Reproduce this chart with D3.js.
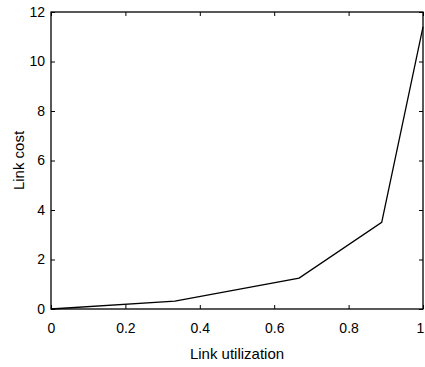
<!DOCTYPE html>
<html>
<head>
<meta charset="utf-8">
<script src="https://cdn.jsdelivr.net/npm/d3@7"></script>
<style>
  body { margin: 0; background: #fff; }
  text { font-family: "Liberation Sans", Arial, sans-serif; fill: #000; }
</style>
</head>
<body>
<script>
// link cost curve
var utilization = [0, 0.333, 0.667, 0.889, 1.0];
var linkCost = [0, 0.32, 1.25, 3.5, 11.4];
var xTicks = [0, 0.2, 0.4, 0.6, 0.8, 1];
var yTicks = [0, 2, 4, 6, 8, 10, 12];

var box = { width: 425, height: 367 };
var plot = { left: 51, right: 423, top: 12, bottom: 309 };

var svg = d3.select("body").append("svg")
    .attr("width", box.width)
    .attr("height", box.height);

var x = d3.scaleLinear().domain([0, 1]).range([plot.left, plot.right]);
var y = d3.scaleLinear().domain([0, 12]).range([plot.bottom, plot.top]);

// frame
svg.append("rect")
    .attr("x", plot.left)
    .attr("y", plot.top)
    .attr("width", plot.right - plot.left)
    .attr("height", plot.bottom - plot.top)
    .attr("fill", "none")
    .attr("stroke", "#000")
    .attr("stroke-width", 1.3);

// axes with inward ticks
var xAxis = d3.axisBottom(x).tickValues(xTicks).tickSize(-4).tickPadding(14)
    .tickFormat(d => d3.format("")(d));
var yAxis = d3.axisLeft(y).tickValues(yTicks).tickSize(-4).tickPadding(6);

var gx = svg.append("g").attr("transform", "translate(0," + plot.bottom + ")").call(xAxis);
var gy = svg.append("g").attr("transform", "translate(" + plot.left + ",0)").call(yAxis);
[gx, gy].forEach(g => {
    g.select(".domain").remove();
    g.selectAll("line").attr("stroke", "#000");
    g.selectAll("text").style("font-size", "14px");
});
// keep the last label inside the window
gx.selectAll(".tick text").filter(d => d === 1).attr("dx", -3);

// top and right ticks
svg.append("g").attr("transform", "translate(0," + plot.top + ")")
    .call(d3.axisTop(x).tickValues(xTicks).tickSize(-4).tickFormat(""))
    .call(g => g.select(".domain").remove());
svg.append("g").attr("transform", "translate(" + plot.right + ",0)")
    .call(d3.axisRight(y).tickValues(yTicks).tickSize(-4).tickFormat(""))
    .call(g => g.select(".domain").remove());

// curve
var line = d3.line()
    .x((d, i) => x(utilization[i]))
    .y(d => y(d));

svg.append("path")
    .datum(linkCost)
    .attr("d", line)
    .attr("fill", "none")
    .attr("stroke", "#000")
    .attr("stroke-width", 1.3);

// labels
svg.append("text")
    .attr("x", (plot.left + plot.right) / 2)
    .attr("y", 359)
    .attr("text-anchor", "middle")
    .style("font-size", "15px")
    .text("Link utilization");

svg.append("text")
    .attr("transform", "translate(24," + (plot.top + plot.bottom) / 2 + ") rotate(-90)")
    .attr("text-anchor", "middle")
    .style("font-size", "15px")
    .text("Link cost");
</script>
</body>
</html>
